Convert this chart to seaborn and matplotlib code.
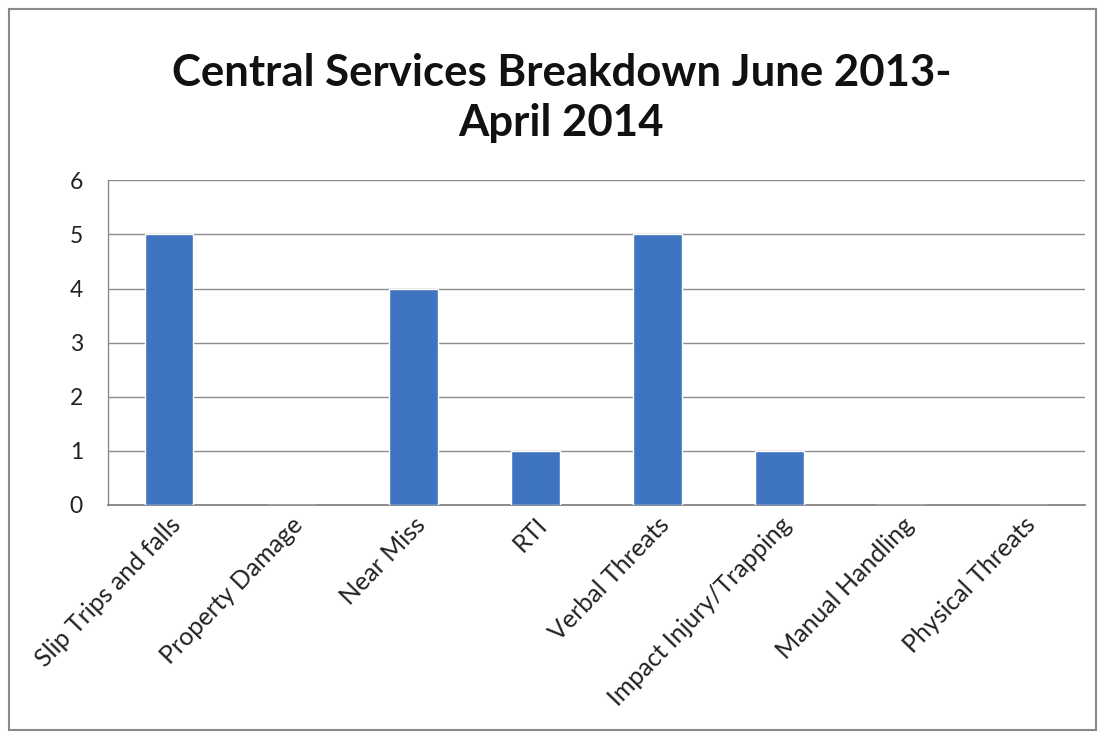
import matplotlib
matplotlib.use("Agg")
import matplotlib.pyplot as plt
import seaborn as sns
import pandas as pd
from matplotlib.patches import Rectangle

categories = ["Slip Trips and falls", "Property Damage", "Near Miss", "RTI",
              "Verbal Threats", "Impact Injury/Trapping", "Manual Handling",
              "Physical Threats"]
counts = [5, 0, 4, 1, 5, 1, 0, 0]
y_ticks = [0, 1, 2, 3, 4, 5, 6]
title = "Central Services Breakdown June 2013-\nApril 2014"

sns.set_theme(style="white")
plt.rcParams["font.family"] = ["Lato", "DejaVu Sans"]

df = pd.DataFrame({"category": categories, "count": counts})

fig = plt.figure(figsize=(11.05, 7.36), dpi=100)
ax = fig.add_axes([0.0977, 0.314, 0.884, 0.441])

sns.barplot(data=df, x="category", y="count", color="#3f74c0",
            width=0.4, saturation=1, ax=ax, zorder=3)

ax.set_ylim(0, 6)
ax.set_xlim(-0.5, len(categories) - 0.5)
ax.set_yticks(y_ticks)
ax.set_yticklabels([str(v) for v in y_ticks], fontsize=16.5, color="#222222")
ax.yaxis.grid(True, color="#8c8c8c", linewidth=1.0, zorder=0)
ax.set_xlabel("")
ax.set_ylabel("")
ax.tick_params(axis="y", length=0, pad=18)
ax.tick_params(axis="x", length=0, pad=6)
ax.set_xticks(range(len(categories)))
ax.set_xticklabels(categories, rotation=46, ha="right", rotation_mode="anchor",
                   fontsize=18, color="#222222")
for side in ["top", "right"]:
    ax.spines[side].set_visible(False)
ax.spines["left"].set_color("#8c8c8c")
ax.spines["bottom"].set_color("#7a7a7a")
ax.spines["left"].set_linewidth(1.0)
ax.spines["bottom"].set_linewidth(1.2)

fig.text(0.508, 0.867, title, ha="center", va="center", fontsize=31.5,
         fontweight="bold", color="#111111", linespacing=1.32)

# Outer chart frame
fig.patches.append(Rectangle((0.008, 0.008), 0.984, 0.98, transform=fig.transFigure,
                             fill=False, edgecolor="#8a8a8a", linewidth=1.5))

fig.savefig("out.png", dpi=100)
